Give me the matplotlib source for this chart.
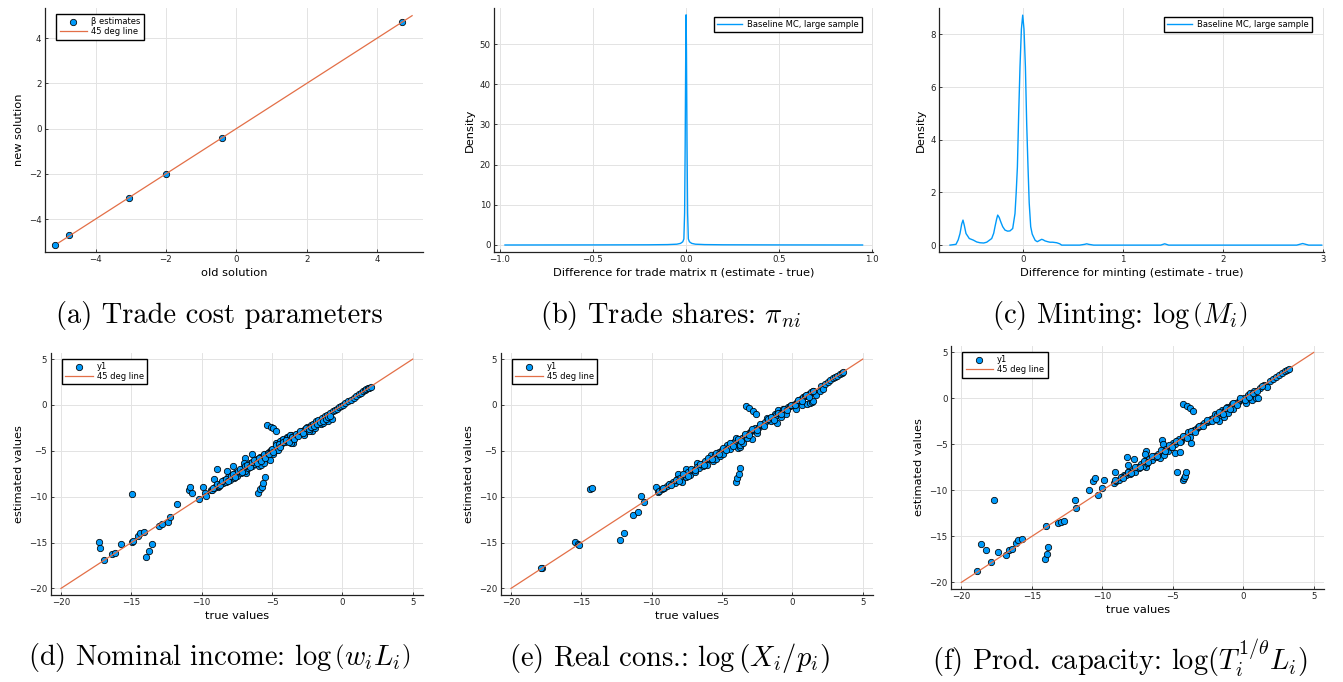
import matplotlib
matplotlib.use("Agg")
import matplotlib.pyplot as plt

# ------------------------------------------------------------
# data
# ------------------------------------------------------------

# (a) trade cost parameters
a_old = [-5.15, -4.75, -3.05, -2.00, -0.42, 4.72]
a_new = [-5.15, -4.72, -3.05, -2.00, -0.42, 4.73]
a_line = [-5.05, 5.0]

# (b) density of trade share differences
b_x = [-0.973, -0.5, -0.2, -0.1, -0.05, -0.03, -0.018, -0.012, -0.008, -0.005,
       -0.002, 0.0, 0.002, 0.005, 0.008, 0.012, 0.018, 0.03, 0.05, 0.1, 0.2,
       0.5, 0.948]
b_y = [0.0, 0.02, 0.05, 0.1, 0.2, 0.4, 0.8, 1.5, 8.0, 25.0,
       48.0, 57.3, 48.0, 25.0, 8.0, 1.5, 0.8, 0.4, 0.2, 0.1, 0.05,
       0.02, 0.0]

# (c) density of minting differences
c_x = [-0.727, -0.667, -0.645, -0.627, -0.61, -0.597, -0.584, -0.567, -0.534,
       -0.494, -0.46, -0.427, -0.39, -0.36, -0.31, -0.29, -0.277, -0.26, -0.25,
       -0.235, -0.22, -0.2, -0.177, -0.15, -0.127, -0.10, -0.077, -0.065,
       -0.053, -0.04, -0.027, -0.013, 0.0, 0.013, 0.027, 0.04, 0.053, 0.065,
       0.08, 0.095, 0.107, 0.125, 0.146, 0.17, 0.19, 0.205, 0.223, 0.25, 0.273,
       0.30, 0.34, 0.37, 0.39, 0.45, 0.57, 0.62, 0.64, 0.66, 0.71, 1.0, 1.38,
       1.42, 1.46, 2.0, 2.74, 2.80, 2.86, 2.99]
c_y = [0.0, 0.03, 0.2, 0.44, 0.8, 0.95, 0.75, 0.44, 0.25,
       0.19, 0.12, 0.09, 0.08, 0.11, 0.25, 0.45, 0.70, 1.0, 1.14,
       1.05, 0.89, 0.7, 0.57, 0.53, 0.54, 0.63, 1.2, 2.0,
       2.97, 5.0, 6.77, 8.2, 8.73, 8.2, 6.77, 4.6, 2.97, 1.6,
       0.70, 0.42, 0.32, 0.18, 0.13, 0.18, 0.22, 0.2, 0.16, 0.13, 0.11,
       0.11, 0.09, 0.05, 0.0, 0.0, 0.0, 0.03, 0.05, 0.03, 0.0, 0.0, 0.0,
       0.05, 0.0, 0.0, 0.0, 0.06, 0.0, 0.0]

# (d) nominal income
d_true = [-17.32, -17.25, -16.97, -16.40, -16.16, -15.73, -14.98, -14.86, -14.93, -14.50,
          -14.38, -14.10, -13.98, -13.74, -13.53, -13.03, -12.80, -12.42, -12.25, -11.73,
          -10.92, -10.81, -10.69, -10.21, -9.93, -9.79, -9.69, -9.34, -9.10, -8.91,
          -8.82, -8.22, -7.75, -6.92, -6.97, -6.85, -6.45, -5.97, -5.83, -5.73,
          -5.62, -5.50, -5.38, -5.09, -4.91, -4.72, -4.67, -4.31, -3.96, -3.65,
          -4.62, -3.53, -2.70, -2.18, -1.47,
          -9.30, -9.10, -8.95, -8.80, -8.65, -8.50, -8.40, -8.25, -8.10, -8.00,
          -7.85, -7.70, -7.60, -7.50, -7.35, -7.20, -7.05, -6.95, -6.80, -6.70,
          -6.55, -6.45, -6.30, -6.20, -6.05, -5.95, -5.85, -5.75, -5.65, -5.55,
          -5.45, -5.35, -5.25, -5.15, -5.05, -4.95, -4.85, -4.75, -4.65, -4.55,
          -4.45, -4.35, -4.25, -4.10, -3.95, -3.85, -3.75, -3.65, -3.55, -3.40,
          -3.25, -3.10, -2.95, -2.85, -2.75, -2.65, -2.50, -2.35, -2.25, -2.10,
          -1.95, -1.85, -1.70, -1.55, -1.45, -1.35, -1.25, -1.10, -1.00, -0.90,
          -0.75, -0.70, -0.55, -0.40, -0.25, -0.10, 0.05, 0.20, 0.40, 0.60,
          0.80, 1.00, 1.20, 1.35, 1.50, 1.60, 1.70, 1.80, 1.90, 2.00]
d_est = [-14.91, -15.64, -16.91, -16.22, -16.11, -15.17, -14.91, -14.84, -9.68, -14.26,
         -13.93, -13.82, -16.55, -15.93, -15.17, -13.20, -13.02, -12.73, -12.19, -10.77,
         -9.28, -8.92, -9.64, -10.30, -8.92, -9.64, -9.93, -9.28, -8.12, -7.03,
         -8.92, -7.21, -6.63, -5.83, -6.37, -7.39, -5.36, -9.57, -9.21, -8.92,
         -8.55, -7.83, -2.19, -2.38, -2.56, -2.81, -4.19, -3.83, -3.54, -3.28,
         -4.92, -4.12, -3.21, -2.81, -2.01,
         -9.22, -9.05, -8.80, -8.85, -8.50, -8.55, -8.20, -8.35, -7.90, -8.15,
         -7.65, -7.95, -7.45, -7.70, -7.15, -7.45, -6.85, -7.20, -6.60, -6.90,
         -6.35, -6.70, -6.10, -6.45, -5.90, -6.60, -5.70, -6.50, -5.55, -6.35,
         -5.35, -5.60, -5.15, -6.00, -4.95, -5.30, -4.75, -4.15, -4.60, -4.90,
         -3.95, -4.30, -3.70, -4.05, -3.60, -3.85, -3.25, -4.10, -3.45, -3.35,
         -3.20, -3.10, -2.95, -2.80, -3.30, -2.60, -2.45, -2.80, -2.20, -2.05,
         -2.50, -1.80, -1.65, -2.10, -1.40, -1.95, -1.20, -1.05, -1.70, -0.85,
         -1.50, -0.65, -0.50, -0.40, -0.25, -0.10, 0.05, 0.20, 0.40, 0.55,
         0.80, 1.00, 1.20, 1.35, 1.55, 1.60, 1.70, 1.80, 1.90, 2.00]
# extra points in the dense band of (d)
d_band_true = [-9.20, -8.90, -8.70, -8.55, -8.30, -8.15, -7.95, -7.80, -7.65, -7.45,
               -7.30, -7.10, -6.90, -6.75, -6.60, -6.40, -6.25, -6.10, -5.90, -5.80,
               -5.60, -5.50, -5.30, -5.20, -5.00, -4.90, -4.70, -4.50, -4.40, -4.20,
               -4.00, -3.80, -3.60, -3.45, -3.30, -3.15, -3.00, -2.80, -2.60, -2.40,
               -2.20, -2.00, -1.80, -1.60, -1.40, -1.20, -1.05, -0.85]
d_band_est = [-9.00, -8.60, -8.75, -8.30, -8.05, -8.25, -7.70, -7.50, -7.80, -7.25,
              -7.00, -7.30, -6.65, -6.50, -6.80, -6.20, -6.00, -6.30, -5.75, -6.10,
              -5.40, -5.80, -5.20, -5.40, -4.80, -5.10, -4.40, -4.30, -4.60, -4.00,
              -3.80, -4.00, -3.50, -3.70, -3.15, -3.40, -2.85, -3.10, -2.50, -2.65,
              -2.45, -2.30, -2.10, -1.90, -1.70, -1.55, -1.30, -1.20]

# (e) real consumption
e_true = [-17.77, -17.85, -15.45, -15.26, -15.14, -14.38, -14.24, -12.23, -11.99, -11.35,
          -10.95, -10.73, -10.55, -9.69, -9.53, -8.13, -7.58, -6.80, -3.98, -3.91,
          -3.82, -3.70, -3.27, -3.06, -2.82, -2.61, 0.26, 0.66, 1.02, 1.25,
          1.37, 1.49, -1.07, -3.84, -3.72, -2.89,
          -9.45, -9.30, -9.10, -8.90, -8.70, -8.50, -8.35, -8.20, -8.00, -7.85,
          -7.70, -7.55, -7.40, -7.25, -7.10, -6.95, -6.80, -6.65, -6.50, -6.35,
          -6.20, -6.05, -5.90, -5.75, -5.65, -5.50, -5.40, -5.25, -5.15, -5.00,
          -4.90, -4.75, -4.65, -4.50, -4.40, -4.25, -4.10, -4.00, -3.85, -3.75,
          -3.60, -3.50, -3.40, -3.25, -3.10, -2.95, -2.80, -2.65, -2.50, -2.40,
          -2.25, -2.10, -1.95, -1.80, -1.65, -1.50, -1.40, -1.25, -1.15, -1.00,
          -0.90, -0.80, -0.70, -0.55, -0.45, -0.30, -0.15, 0.00, 0.15, 0.30,
          0.45, 0.60, 0.75, 0.90, 1.05, 1.20, 1.35, 1.50, 1.65, 1.95,
          2.05, 2.20, 2.30, 2.50, 2.70, 2.90, 3.05, 3.20, 3.35, 3.50,
          3.60]
e_est = [-17.78, -17.82, -14.91, -15.17, -15.24, -9.17, -9.06, -14.73, -13.93, -12.00,
         -11.64, -9.90, -10.59, -8.92, -9.46, -7.54, -6.95, -6.30, -8.37, -8.00,
         -7.57, -6.85, -0.12, -0.38, -0.63, -1.00, -0.49, -0.01, 0.09, 0.25,
         0.35, 0.42, -2.01, -4.74, -4.63, -3.76,
         -9.40, -9.20, -9.05, -8.85, -8.65, -8.45, -8.50, -8.10, -7.95, -8.40,
         -7.65, -7.80, -7.35, -7.60, -7.05, -7.30, -6.75, -6.90, -6.45, -6.60,
         -6.15, -6.50, -5.85, -5.50, -6.10, -5.45, -5.90, -5.15, -5.55, -4.95,
         -5.40, -4.70, -4.35, -4.55, -4.80, -4.20, -3.95, -3.55, -3.80, -4.40,
         -3.55, -4.20, -3.30, -3.60, -3.05, -2.80, -2.75, -2.55, -3.10, -2.35,
         -2.20, -2.05, -1.85, -1.45, -1.60, -1.80, -1.35, -1.00, -1.10, -0.60,
         -0.90, -1.30, -0.45, -0.55, -0.95, -0.25, -0.10, 0.00, 0.15, 0.30,
         0.50, 0.60, 0.85, 0.95, 1.10, 1.25, 1.40, 1.50, 1.10, 1.55,
         2.05, 1.70, 2.25, 2.50, 2.70, 2.90, 3.05, 3.20, 3.35, 3.50,
         3.60]
e_band_true = [-9.20, -8.80, -8.60, -8.30, -8.05, -7.75, -7.45, -7.20, -6.90, -6.60,
               -6.30, -6.00, -5.70, -5.45, -5.20, -4.95, -4.70, -4.45, -4.20, -3.90,
               -3.65, -3.40, -3.10, -2.85, -2.55, -2.30, -2.00, -1.75, -1.50, -1.30,
               -1.05, -0.80, -0.60, -0.35, -0.10, 0.20, 0.40, 0.70, 0.95, 1.20,
               1.45]
e_band_est = [-9.00, -8.60, -8.75, -8.15, -8.30, -7.50, -7.70, -7.00, -7.10, -6.40,
              -6.50, -5.80, -5.90, -5.20, -5.40, -4.70, -4.90, -4.20, -4.50, -3.70,
              -3.90, -3.20, -3.30, -2.60, -2.75, -2.10, -2.25, -1.50, -1.30, -1.60,
              -0.85, -1.00, -0.40, -0.60, 0.05, 0.00, 0.55, 0.40, 1.10, 0.90,
              1.55]

# (f) productive capacity
f_true = [-18.86, -18.58, -18.22, -17.87, -17.68, -17.39, -16.85, -16.64, -16.42, -16.09,
          -15.95, -15.71, -14.08, -13.96, -13.91, -13.86, -13.13, -12.94, -12.73, -11.94,
          -11.87, -10.95, -10.64, -10.50, -10.28, -10.02, -9.88, -9.10, -8.27, -8.20,
          -7.75, -6.92, -6.97, -6.92, -5.78, -5.71, -4.72, -4.24, -4.20, -4.15,
          -4.08, -4.24, -4.00, -3.77, -3.53, -4.83, -4.48, -5.19, -3.72,
          -9.20, -9.00, -8.80, -8.60, -8.45, -8.30, -8.15, -8.00, -7.85, -7.70,
          -7.55, -7.40, -7.25, -7.10, -6.95, -6.80, -6.65, -6.50, -6.35, -6.20,
          -6.05, -5.90, -5.75, -5.65, -5.50, -5.35, -5.20, -5.10, -4.95, -4.85,
          -4.70, -4.55, -4.40, -4.25, -4.10, -3.95, -3.80, -3.65, -3.50, -3.35,
          -3.20, -3.05, -2.90, -2.75, -2.60, -2.45, -2.30, -2.15, -2.00, -1.85,
          -1.75, -1.60, -1.50, -1.40, -1.30, -1.15, -1.05, -0.95, -0.80, -0.70,
          -0.55, -0.40, -0.25, -0.10, 0.05, 0.20, 0.35, 0.50, 0.60, 0.75,
          0.90, 1.05, 1.20, 1.50, 1.70, 1.90, 2.10, 2.35, 2.55, 2.75,
          2.95, 3.10, 3.22]
f_est = [-18.77, -15.83, -16.52, -17.79, -11.09, -16.70, -17.07, -16.52, -16.38, -15.72,
         -15.43, -15.29, -17.50, -13.91, -16.92, -16.16, -13.59, -13.48, -13.30, -11.09,
         -11.92, -9.96, -8.95, -8.62, -10.51, -9.78, -8.91, -8.04, -6.38, -7.25,
         -6.59, -5.69, -6.09, -7.46, -4.57, -4.93, -8.01, -8.84, -8.70, -8.48,
         -8.01, -0.65, -0.80, -1.05, -1.34, -5.94, -5.87, -5.33, -4.86,
         -9.15, -8.95, -8.90, -8.55, -8.30, -8.35, -8.05, -8.20, -7.75, -7.95,
         -7.45, -7.60, -7.15, -7.35, -6.85, -7.00, -6.55, -6.70, -6.25, -6.40,
         -6.00, -6.45, -5.70, -6.10, -5.45, -5.70, -5.15, -5.30, -4.85, -5.00,
         -4.60, -4.45, -4.60, -4.20, -4.05, -3.70, -4.20, -3.55, -3.45, -3.30,
         -3.15, -3.00, -2.85, -2.70, -2.55, -2.40, -2.25, -2.10, -1.70, -1.80,
         -2.50, -1.55, -1.30, -2.00, -1.25, -0.90, -1.60, -0.90, -0.60, -1.10,
         -0.50, -0.35, -0.20, -0.05, 0.10, -0.55, 0.35, 0.55, -0.20, 0.80,
         0.10, 0.00, 1.10, 1.50, 1.20, 1.85, 2.10, 2.35, 2.55, 2.75,
         2.95, 3.10, 3.22]
f_band_true = [-9.10, -8.70, -8.50, -8.20, -7.95, -7.65, -7.35, -7.05, -6.75, -6.45,
               -6.15, -5.85, -5.55, -5.30, -5.05, -4.80, -4.50, -4.30, -4.00, -3.70,
               -3.45, -3.15, -2.85, -2.55, -2.25, -1.95, -1.70, -1.45, -1.20, -0.95,
               -0.70, -0.45, -0.20, 0.10, 0.40, 0.70, 1.00, 1.30]
f_band_est = [-8.90, -8.50, -8.65, -8.00, -8.10, -7.45, -7.50, -6.85, -6.95, -6.25,
              -6.30, -5.65, -5.75, -5.10, -5.25, -4.60, -4.75, -4.05, -4.25, -3.50,
              -3.65, -2.95, -3.05, -2.35, -2.45, -2.20, -1.50, -1.70, -1.00, -1.20,
              -0.50, -0.70, 0.00, -0.15, 0.20, 0.55, 0.85, 1.30]

diag_line = [-20, 5]
diag_ticks = [-20, -15, -10, -5, 0, 5]

captions = [
    "(a) Trade cost parameters",
    r"(b) Trade shares: $\pi_{ni}$",
    r"(c) Minting: $\log\left(M_i\right)$",
    r"(d) Nominal income: $\log\left(w_iL_i\right)$",
    r"(e) Real cons.: $\log\left(X_i/p_i\right)$",
    r"(f) Prod. capacity: $\log(T_i^{1/\theta}L_i)$",
]

# ------------------------------------------------------------
# style
# ------------------------------------------------------------

BLUE = "#009AFA"
ORANGE = "#E36F47"
W, H = 1343, 682
TICK_FS = 6.2
LABEL_FS = 8.2
LEGEND_FS = 6.0

plt.rcParams["mathtext.fontset"] = "cm"
plt.rcParams["font.family"] = "DejaVu Sans"


def px_axes(fig, left, top, right, bottom):
    return fig.add_axes([left / W, 1 - bottom / H, (right - left) / W, (bottom - top) / H])


def style_axes(ax):
    for side in ["top", "right"]:
        ax.spines[side].set_visible(False)
    for side in ["left", "bottom"]:
        ax.spines[side].set_linewidth(0.9)
        ax.spines[side].set_color("#222222")
    ax.grid(True, color="#e3e3e3", linewidth=0.7)
    ax.set_axisbelow(True)
    ax.tick_params(labelsize=TICK_FS, length=2.5, width=0.6, direction="in", pad=2.5,
                   colors="#222222")


def style_legend(leg):
    frame = leg.get_frame()
    frame.set_edgecolor("black")
    frame.set_linewidth(1.0)
    frame.set_alpha(1)


def scatter_panel(ax, xs, ys, label, line_x, xlim, ylim):
    ax.scatter(xs, ys, s=21, color=BLUE, edgecolors="black", linewidths=0.55,
               label=label, zorder=3)
    ax.plot(line_x, line_x, color=ORANGE, lw=0.9, label="45 deg line", zorder=4)
    ax.set_xlim(*xlim)
    ax.set_ylim(*ylim)
    style_axes(ax)
    leg = ax.legend(loc="upper left", bbox_to_anchor=(0.03, 0.975), fontsize=LEGEND_FS,
                    fancybox=False, borderpad=0.4, labelspacing=0.1,
                    handlelength=3.3, handletextpad=0.5, borderaxespad=0)
    style_legend(leg)


fig = plt.figure(figsize=(W / 100, H / 100), dpi=100)

# (a)
ax = px_axes(fig, 45, 8, 423, 252)
scatter_panel(ax, a_old, a_new, "β estimates", a_line, (-5.44, 5.31), (-5.46, 5.34))
ax.set_xticks([-4, -2, 0, 2, 4])
ax.set_yticks([-4, -2, 0, 2, 4])
ax.set_xlabel("old solution", fontsize=LABEL_FS, labelpad=2.5)
ax.set_ylabel("new solution", fontsize=LABEL_FS, labelpad=3.5)

# (b)
ax = px_axes(fig, 494, 8, 873, 251.7)
ax.plot(b_x, b_y, color=BLUE, lw=1.0, label="Baseline MC, large sample")
ax.set_xlim(-1.032, 1.004)
ax.set_ylim(-1.67, 59.0)
style_axes(ax)
ax.set_xticks([-1.0, -0.5, 0.0, 0.5, 1.0])
ax.set_xticklabels(["\u22121.0", "\u22120.5", "0.0", "0.5", "1.0"])
ax.set_yticks([0, 10, 20, 30, 40, 50])
ax.set_xlabel("Difference for trade matrix π (estimate - true)", fontsize=LABEL_FS,
              labelpad=2.5)
ax.set_ylabel("Density", fontsize=LABEL_FS, labelpad=3.5)
leg = ax.legend(loc="upper right", bbox_to_anchor=(0.97, 0.965), fontsize=LEGEND_FS,
                fancybox=False, borderpad=0.4, handlelength=3.0, handletextpad=0.5,
                borderaxespad=0)
style_legend(leg)

# (c)
ax = px_axes(fig, 939.3, 8.3, 1324.3, 251.7)
ax.plot(c_x, c_y, color=BLUE, lw=1.0, label="Baseline MC, large sample")
ax.set_xlim(-0.834, 3.016)
ax.set_ylim(-0.25, 8.99)
style_axes(ax)
ax.set_xticks([0, 1, 2, 3])
ax.set_yticks([0, 2, 4, 6, 8])
ax.set_xlabel("Difference for minting (estimate - true)", fontsize=LABEL_FS, labelpad=2.5)
ax.set_ylabel("Density", fontsize=LABEL_FS, labelpad=3.5)
leg = ax.legend(loc="upper right", bbox_to_anchor=(0.967, 0.965), fontsize=LEGEND_FS,
                fancybox=False, borderpad=0.4, handlelength=3.0, handletextpad=0.5,
                borderaxespad=0)
style_legend(leg)

# (d), (e), (f)
bottom_panels = [
    (d_true + d_band_true, d_est + d_band_est, (50.7, 352.7, 423.3, 595)),
    (e_true + e_band_true, e_est + e_band_est, (500.7, 352.7, 873.3, 595)),
    (f_true + f_band_true, f_est + f_band_est, (951, 346, 1324.3, 589)),
]
for xs, ys, rect in bottom_panels:
    ax = px_axes(fig, *rect)
    scatter_panel(ax, xs, ys, "y1", diag_line, (-20.73, 5.75), (-20.72, 5.7))
    ax.set_xticks(diag_ticks)
    ax.set_yticks(diag_ticks)
    ax.set_xlabel("true values", fontsize=LABEL_FS, labelpad=2.5)
    ax.set_ylabel("estimated values", fontsize=LABEL_FS, labelpad=3.5)

# captions
cap_pos = [(219, 315), (670, 315), (1120, 315), (219, 658), (669, 658), (1120, 658)]
for text, (cx, cy) in zip(captions, cap_pos):
    fig.text(cx / W, 1 - cy / H, text, ha="center", va="center", fontsize=20.5,
             family="cmr10")

fig.savefig("out.png", dpi=100)
